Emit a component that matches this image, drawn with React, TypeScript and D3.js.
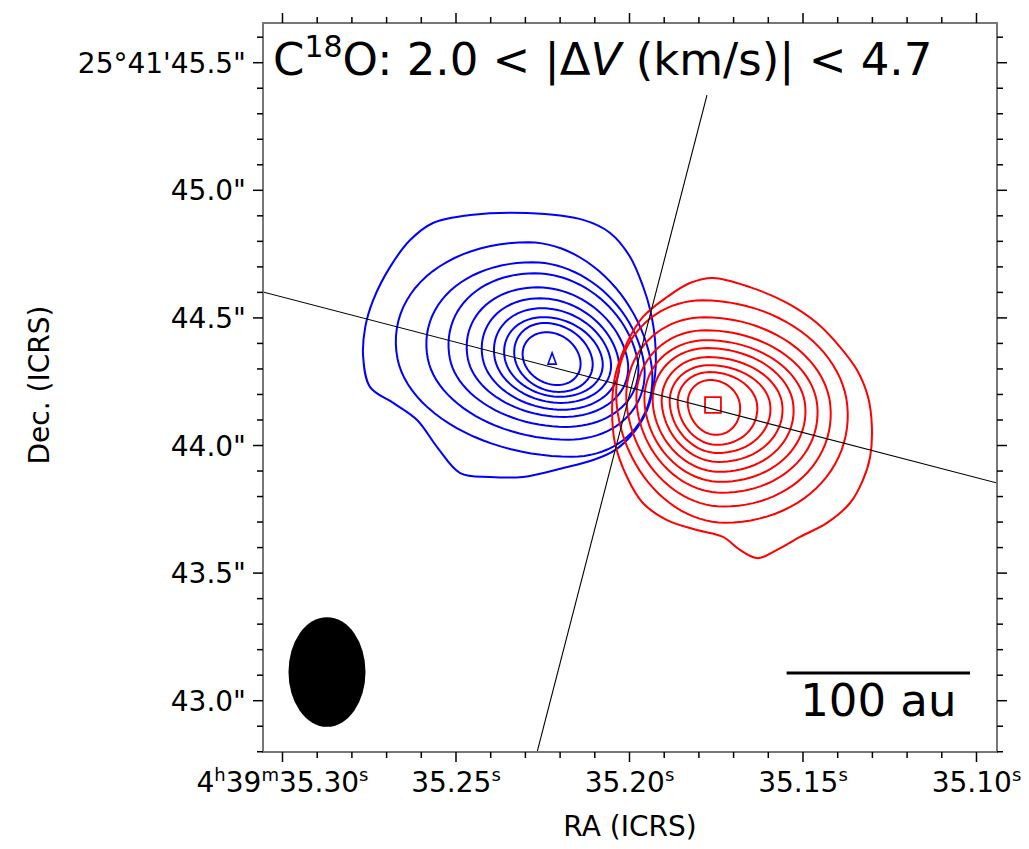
import React from "react";
import * as d3 from "d3";

// ---------- axes ----------
const RA_DOMAIN = [35.30562, 35.09409]; // seconds of RA (4h39m)
const DEC_DOMAIN = [45.6556, 42.799]; // arcsec of Dec (25°41')
const RA_MAJOR = [35.3, 35.25, 35.2, 35.15, 35.1];
const RA_LABELS = ["4^h39^m35.30^s", "35.25^s", "35.20^s", "35.15^s", "35.10^s"];
const DEC_MAJOR = [45.5, 45.0, 44.5, 44.0, 43.5, 43.0];
const DEC_LABELS = ["25°41'45.5\"", "45.0\"", "44.5\"", "44.0\"", "43.5\"", "43.0\""];
const X_LABEL = "RA (ICRS)";
const Y_LABEL = "Dec. (ICRS)";
const DEC_REF_DEG = 25 + 41 / 60 + 44.3 / 3600;

// ---------- blue-shifted lobe ----------
const BLUE_PEAK = { ra: 35.2223, dec: 44.339 };
const BLUE_SHEAR = 0.2;
// outermost contour [east offset ", north offset "]
const BLUE_OUTER = [
  [0.097, 0.572], [-0.121, 0.545], [-0.226, 0.494], [-0.304, 0.4], [-0.355, 0.282],
  [-0.382, 0.192], [-0.401, 0.074], [-0.401, -0.063], [-0.37, -0.2], [-0.316, -0.29],
  [-0.245, -0.357], [-0.16, -0.396], [-0.043, -0.427], [0.113, -0.462], [0.242, -0.462],
  [0.358, -0.447], [0.448, -0.345], [0.526, -0.239], [0.619, -0.172], [0.709, -0.11],
  [0.736, 0.008], [0.728, 0.125], [0.697, 0.231], [0.631, 0.361], [0.553, 0.466],
  [0.464, 0.533], [0.319, 0.564],
];
// inner contours: [east, west, north, south] extents in arcsec from peak
const BLUE_RINGS = [
  [0.602, 0.383, 0.457, 0.383],
  [0.484, 0.355, 0.379, 0.316],
  [0.398, 0.332, 0.336, 0.266],
  [0.328, 0.293, 0.281, 0.227],
  [0.27, 0.258, 0.238, 0.199],
  [0.223, 0.227, 0.199, 0.172],
  [0.184, 0.195, 0.164, 0.148],
  [0.145, 0.156, 0.141, 0.129],
  [0.113, 0.109, 0.105, 0.102],
];
const BLUE_CORE = [[0, 0.024], [0.016, -0.02], [-0.016, -0.02]];

// ---------- red-shifted lobe ----------
const RED_PEAK = { ra: 35.17594, dec: 44.1587 };
const RED_SHEAR = 0.1;
const RED_OUTER = [
  [0, 0.498], [-0.144, 0.462], [-0.288, 0.4], [-0.405, 0.321], [-0.495, 0.227],
  [-0.561, 0.137], [-0.604, 0.031], [-0.619, -0.086], [-0.612, -0.204], [-0.584, -0.294],
  [-0.534, -0.384], [-0.444, -0.462], [-0.339, -0.517], [-0.249, -0.568], [-0.175, -0.6],
  [-0.105, -0.568], [-0.039, -0.517], [0.062, -0.49], [0.179, -0.451], [0.273, -0.384],
  [0.335, -0.282], [0.382, -0.149], [0.393, -0.02], [0.382, 0.11], [0.335, 0.243],
  [0.273, 0.345], [0.179, 0.423], [0.09, 0.478],
];
const RED_RINGS = [
  [0.375, 0.523, 0.41, 0.461],
  [0.336, 0.457, 0.344, 0.398],
  [0.297, 0.406, 0.293, 0.344],
  [0.266, 0.359, 0.254, 0.301],
  [0.234, 0.313, 0.223, 0.262],
  [0.199, 0.27, 0.188, 0.223],
  [0.168, 0.223, 0.156, 0.188],
  [0.137, 0.172, 0.129, 0.156],
  [0.098, 0.105, 0.098, 0.117],
];
const RED_CORE = [[0.031, 0.031], [-0.031, 0.031], [-0.031, -0.031], [0.031, -0.031]];

// ---------- axis lines (RA s, Dec ") ----------
const LINES = [
  [[35.32378, 44.6657], [35.07594, 43.7888]],
  [[35.17767, 45.3734], [35.22983, 42.6305]],
];

// ---------- beam & scale bar ----------
const BEAM = { ra: 35.28718, dec: 43.1125, major: 0.43, minor: 0.3 };
const SCALEBAR = { raRight: 35.10187, dec: 43.1085, au: 100, distPc: 140, label: "100 au" };

const TITLE = { pre: "C", sup: "18", mid: "O: 2.0 < |Δ", ital: "V", post: " (km/s)| < 4.7" };

function parseSup(s: string) {
  const out: { t: string; sup: boolean }[] = [];
  let buf = "";
  for (let i = 0; i < s.length; i++) {
    if (s[i] === "^") {
      if (buf) out.push({ t: buf, sup: false });
      buf = "";
      out.push({ t: s[i + 1], sup: true });
      i++;
    } else buf += s[i];
  }
  if (buf) out.push({ t: buf, sup: false });
  return out;
}

export default function App() {
  const W = 1029, H = 849;
  const L = 263, R = 997, T = 23, B = 752;
  const x = d3.scaleLinear().domain(RA_DOMAIN).range([L, R]);
  const y = d3.scaleLinear().domain(DEC_DOMAIN).range([T, B]);
  const cosd = Math.cos((DEC_REF_DEG * Math.PI) / 180);
  const off = (ra0: number, dec0: number, e: number, n: number): [number, number] => [
    x(ra0 + e / (15 * cosd)),
    y(dec0 + n),
  ];

  const smooth = d3.line().curve(d3.curveCatmullRomClosed.alpha(0.5));
  const linear = d3.line().curve(d3.curveLinearClosed);

  const ringPath = (peak: any, r: number[], shear: number) => {
    const [E, Wst, N, S] = r;
    const pts: [number, number][] = [];
    const n = 96;
    for (let i = 0; i < n; i++) {
      const th = (i / n) * 2 * Math.PI;
      const c = Math.cos(th), s = Math.sin(th);
      const dxImg = c >= 0 ? Wst * c : E * c; // positive = west (right)
      const ny = s >= 0 ? N * s : S * s;
      const east = -dxImg + shear * ny;
      pts.push(off(peak.ra, peak.dec, east, ny));
    }
    return linear(pts) as string;
  };
  const polyPath = (peak: any, poly: number[][], curve: any) =>
    curve(poly.map(([e, n]) => off(peak.ra, peak.dec, e, n))) as string;

  const raMinor = d3.range(0, 21).map((i) => +(35.1 + i * 0.01).toFixed(2));
  const decMinor = d3.range(0, 29).map((i) => +(42.8 + i * 0.1).toFixed(1));
  const isMajor = (v: number, step: number) => Math.abs(v / step - Math.round(v / step)) < 1e-6;

  const font = "'DejaVu Sans', sans-serif";
  const tickW = 1.5;

  // beam
  const bx = x(BEAM.ra), by = y(BEAM.dec);
  const brx = Math.abs(x(BEAM.ra + BEAM.minor / 2 / (15 * cosd)) - bx);
  const bry = Math.abs(y(BEAM.dec + BEAM.major / 2) - by);

  // scale bar
  const barArcsec = SCALEBAR.au / SCALEBAR.distPc;
  const sbx2 = x(SCALEBAR.raRight);
  const sbx1 = x(SCALEBAR.raRight + barArcsec / (15 * cosd));
  const sby = y(SCALEBAR.dec);

  return (
    <svg
      width={W}
      height={H}
      style={{ position: "absolute", left: 0, top: 0, background: "#fff" }}
      fontFamily={font}
    >
      <defs>
        <clipPath id="plotclip">
          <rect x={L} y={T} width={R - L} height={B - T} />
        </clipPath>
      </defs>
      <rect x={0} y={0} width={W} height={H} fill="#fff" />

      <g clipPath="url(#plotclip)">
        {/* blue contours */}
        <g fill="none" stroke="#0000ff" strokeWidth={2}>
          <path d={polyPath(BLUE_PEAK, BLUE_OUTER, smooth)} />
          {BLUE_RINGS.map((r, i) => (
            <path key={i} d={ringPath(BLUE_PEAK, r, BLUE_SHEAR)} />
          ))}
          <path d={polyPath(BLUE_PEAK, BLUE_CORE, linear)} strokeWidth={1.6} />
        </g>
        {/* red contours */}
        <g fill="none" stroke="#ff0000" strokeWidth={2}>
          <path d={polyPath(RED_PEAK, RED_OUTER, smooth)} />
          {RED_RINGS.map((r, i) => (
            <path key={i} d={ringPath(RED_PEAK, r, RED_SHEAR)} />
          ))}
          <path d={polyPath(RED_PEAK, RED_CORE, linear)} strokeWidth={1.8} />
        </g>
        {/* lines */}
        {LINES.map((ln, i) => (
          <line
            key={i}
            x1={x(ln[0][0])}
            y1={y(ln[0][1])}
            x2={x(ln[1][0])}
            y2={y(ln[1][1])}
            stroke="#000"
            strokeWidth={1.1}
          />
        ))}
        {/* beam */}
        <ellipse cx={bx} cy={by} rx={brx} ry={bry} fill="#000" />
        {/* scale bar */}
        <line x1={sbx1} x2={sbx2} y1={sby} y2={sby} stroke="#000" strokeWidth={3} />
        <text x={(sbx1 + sbx2) / 2} y={sby + 43} textAnchor="middle" fontSize={45} fill="#000">
          {SCALEBAR.label}
        </text>
      </g>

      {/* title */}
      <text x={273} y={75} fontSize={45} fill="#000">
        {TITLE.pre}
        <tspan fontSize={30} dy={-18}>{TITLE.sup}</tspan>
        <tspan dy={18}>{TITLE.mid}</tspan>
        <tspan fontStyle="italic">{TITLE.ital}</tspan>
        <tspan>{TITLE.post}</tspan>
      </text>

      {/* frame */}
      <rect x={L} y={T} width={R - L} height={B - T} fill="none" stroke="#777" strokeWidth={2} />

      {/* ticks */}
      <g stroke="#000" strokeWidth={tickW}>
        {raMinor.map((v, i) => {
          const len = isMajor(v, 0.05) ? 10 : 6;
          const xv = x(v);
          return (
            <g key={"rx" + i}>
              <line x1={xv} x2={xv} y1={B} y2={B + len} />
              <line x1={xv} x2={xv} y1={T} y2={T - len} />
            </g>
          );
        })}
        {decMinor.map((v, i) => {
          const len = isMajor(v, 0.5) ? 10 : 6;
          const yv = y(v);
          return (
            <g key={"dy" + i}>
              <line x1={L} x2={L - len} y1={yv} y2={yv} />
              <line x1={R} x2={R + len} y1={yv} y2={yv} />
            </g>
          );
        })}
      </g>

      {/* tick labels */}
      {RA_MAJOR.map((v, i) => (
        <text key={"rl" + i} x={x(v)} y={792} textAnchor="middle" fontSize={28} fill="#000">
          {parseSup(RA_LABELS[i]).map((p, j) =>
            p.sup ? (
              <tspan key={j} fontSize={18} dy={-11}>
                {p.t}
              </tspan>
            ) : (
              <tspan key={j} dy={j > 0 ? 11 : 0}>
                {p.t}
              </tspan>
            )
          )}
        </text>
      ))}
      {DEC_MAJOR.map((v, i) => (
        <text
          key={"dl" + i}
          x={246}
          y={y(v) + 10}
          textAnchor="end"
          fontSize={28}
          fill="#000"
        >
          {DEC_LABELS[i]}
        </text>
      ))}

      {/* axis labels */}
      <text x={(L + R) / 2} y={836} textAnchor="middle" fontSize={28} fill="#000">
        {X_LABEL}
      </text>
      <text
        transform={`translate(49,385) rotate(-90)`}
        textAnchor="middle"
        fontSize={28}
        fill="#000"
      >
        {Y_LABEL}
      </text>
    </svg>
  );
}
